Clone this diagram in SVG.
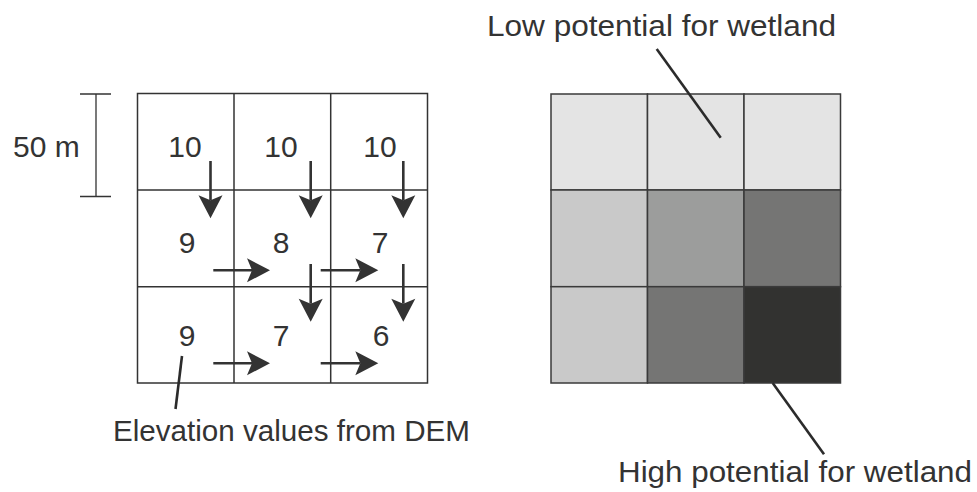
<svg xmlns="http://www.w3.org/2000/svg" width="977" height="492" viewBox="0 0 977 492">
  <style>
    .lbl { font-family: "Liberation Sans", Arial, sans-serif; font-size: 30px; fill: #333; }
    .num { font-family: "Liberation Sans", Arial, sans-serif; font-size: 30px; fill: #333; text-anchor: middle; }
    .grid { fill: #fff; stroke: #333; stroke-width: 1.5; }
    .cell { stroke: #3a3a3a; stroke-width: 1.5; }
    .flow { stroke: #333; stroke-width: 2.6; fill: none; marker-end: url(#head); }
    .lead { stroke: #2b2b2b; stroke-width: 2.6; fill: none; }
    .bar { stroke: #333; stroke-width: 1.3; fill: none; }
  </style>
  <defs>
    <marker id="head" markerUnits="userSpaceOnUse" viewBox="-24 -13 25 26" markerWidth="25" markerHeight="26" refX="-18" refY="0" orient="auto">
      <path d="M0,0 L-23,-12 L-18,0 L-23,12 Z" fill="#333"/>
    </marker>
  </defs>

  <!-- scale bar -->
  <g id="scale">
    <path class="bar" d="M80,94 H111 M96,94 V196.5 M80,196.5 H111"/>
    <text class="lbl" x="13" y="157">50 m</text>
  </g>

  <!-- elevation grid -->
  <g id="dem-grid">
    <rect class="grid" x="137.5" y="93.5" width="290" height="289.5"/>
    <path class="grid" d="M234,93.5 V383 M330.7,93.5 V383 M137.5,190 H427.5 M137.5,286.7 H427.5" fill="none"/>
  </g>

  <g id="dem-values">
    <text class="num" x="185" y="157">10</text>
    <text class="num" x="281" y="157">10</text>
    <text class="num" x="380" y="157">10</text>
    <text class="num" x="187" y="253">9</text>
    <text class="num" x="281" y="253">8</text>
    <text class="num" x="380" y="253">7</text>
    <text class="num" x="187" y="346">9</text>
    <text class="num" x="281" y="346">7</text>
    <text class="num" x="381" y="346">6</text>
  </g>

  <g id="dem-label">
    <text class="lbl" x="113" y="440.7" textLength="357" lengthAdjust="spacingAndGlyphs">Elevation values from DEM</text>
  </g>

  <!-- wetland potential grid -->
  <g id="potential-grid">
    <rect class="cell" x="551" y="94" width="96.5" height="96" fill="#e4e4e4"/>
    <rect class="cell" x="647.5" y="94" width="96.5" height="96" fill="#e4e4e4"/>
    <rect class="cell" x="744" y="94" width="96.5" height="96" fill="#e4e4e4"/>
    <rect class="cell" x="551" y="190" width="96.5" height="96.7" fill="#c9c9c9"/>
    <rect class="cell" x="647.5" y="190" width="96.5" height="96.7" fill="#9c9d9c"/>
    <rect class="cell" x="744" y="190" width="96.5" height="96.7" fill="#757574"/>
    <rect class="cell" x="551" y="286.7" width="96.5" height="96.3" fill="#c9c9c9"/>
    <rect class="cell" x="647.5" y="286.7" width="96.5" height="96.3" fill="#757574"/>
    <rect class="cell" x="744" y="286.7" width="96.5" height="96.3" fill="#323230" stroke="#323230"/>
  </g>

  <g id="low-label">
    <text class="lbl" x="487" y="36" textLength="349" lengthAdjust="spacingAndGlyphs">Low potential for wetland</text>
  </g>
  <g id="high-label">
    <text class="lbl" x="618" y="482" textLength="354" lengthAdjust="spacingAndGlyphs">High potential for wetland</text>
  </g>

  <!-- flow direction arrows and leader lines, drawn over the grids -->
  <g id="connectors">
    <path class="flow" d="M210.5,161 V200.3"/>
    <path class="flow" d="M310.7,161 V200.3"/>
    <path class="flow" d="M403.3,161 V200.3"/>
    <path class="flow" d="M310.7,264 V303.7"/>
    <path class="flow" d="M403.3,264 V303.7"/>
    <path class="flow" d="M213.3,270.3 H252"/>
    <path class="flow" d="M320.7,270.3 H360.3"/>
    <path class="flow" d="M213.3,363.3 H252"/>
    <path class="flow" d="M320.7,363.3 H360.3"/>
    <path class="lead" d="M182,356 L175.5,409"/>
    <path class="lead" d="M656.7,49 L720.7,137.7"/>
    <path class="lead" d="M772.7,383 L824,454.3"/>
  </g>
</svg>
